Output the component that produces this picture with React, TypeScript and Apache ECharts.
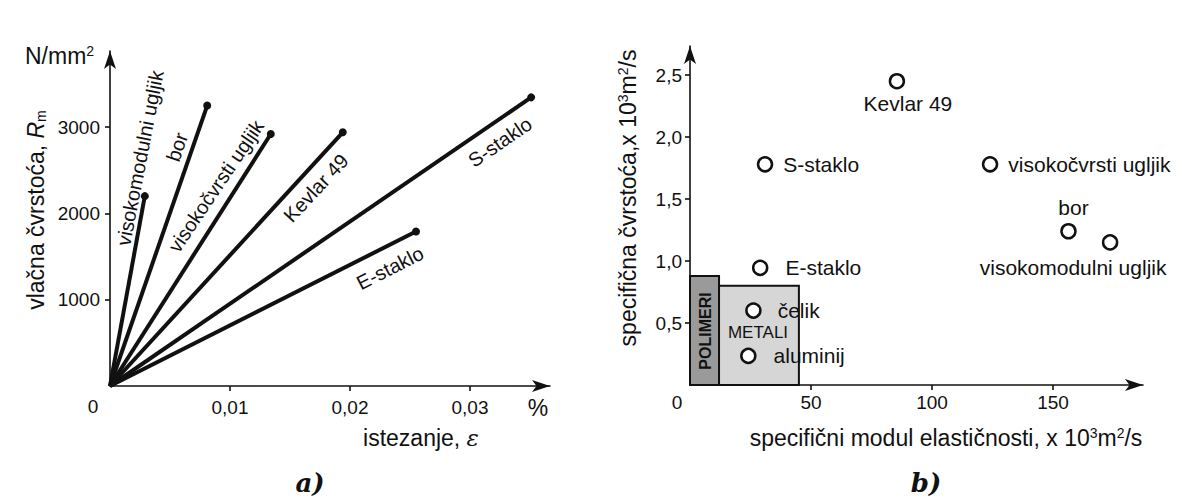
import React, { useEffect, useRef } from 'react';
import * as echarts from 'echarts';

// ---- a) tensile strength vs elongation ----
const fibreNames = ['visokomodulni ugljik', 'bor', 'visokočvrsti ugljik', 'Kevlar 49', 'S-staklo', 'E-staklo'];
const fibreStrain = [0.0029, 0.0081, 0.0134, 0.0194, 0.0351, 0.0255];
const fibreStrength = [2200, 3250, 2920, 2940, 3345, 1790];
const leftXTicks = [0.01, 0.02, 0.03];
const leftYTicks = [1000, 2000, 3000];

// ---- b) specific strength vs specific modulus ----
const materialNames = ['Kevlar 49', 'S-staklo', 'visokočvrsti ugljik', 'bor', 'visokomodulni ugljik', 'E-staklo', 'čelik', 'aluminij'];
const specModulus = [85.5, 31, 124, 156.4, 173.6, 29, 26.2, 24.1];
const specStrength = [2.45, 1.78, 1.78, 1.24, 1.15, 0.945, 0.6, 0.235];
const rightXTicks = [50, 100, 150];
const rightYTicks = [0.5, 1, 1.5, 2, 2.5];
const zoneNames = ['POLIMERI', 'METALI'];
const zoneModulusFrom = [0, 12];
const zoneModulusTo = [12, 45];
const zoneStrengthTo = [0.88, 0.8];

const FONT = '"Liberation Sans", Arial, sans-serif';
const INK = '#111111';

const labelPlacement: Record<string, any> = {
  'Kevlar 49': { position: 'bottom', distance: 4, offset: [11, 0] },
  'S-staklo': { position: 'right', distance: 10 },
  'visokočvrsti ugljik': { position: 'right', distance: 10 },
  'bor': { position: 'top', distance: 5, offset: [5, 0] },
  'visokomodulni ugljik': { position: 'bottom', distance: 6, offset: [-37, 0] },
  'E-staklo': { position: 'right', distance: 17 },
  'čelik': { position: 'right', distance: 16 },
  'aluminij': { position: 'right', distance: 17 },
};

const lineLabelPos: Record<string, [number, number, number]> = {
  'visokomodulni ugljik': [140, 158, 79],
  'bor': [177, 147, 71],
  'visokočvrsti ugljik': [216, 186, 56],
  'Kevlar 49': [316, 188, 47],
  'S-staklo': [500, 142, 34.5],
  'E-staklo': [390, 268, 27],
};

const hasTick = (ticks: number[], v: number) => ticks.some((t) => Math.abs(t - v) < 1e-9);

function axisCommon() {
  return {
    axisLine: { show: true, onZero: false, symbol: ['none', 'arrow'], symbolSize: [9, 18], lineStyle: { color: INK, width: 1.6 } },
    axisTick: { show: true, length: 5, lineStyle: { color: INK, width: 1.6 } },
    splitLine: { show: false },
  };
}

const sup = { fontSize: 14, verticalAlign: 'top', fontFamily: FONT, fill: INK, padding: [0, 0, 10, 0] } as any;

function buildOption() {
  const lineSeries = fibreNames.map((name, i) => ({
    type: 'line',
    name,
    xAxisIndex: 0,
    yAxisIndex: 0,
    data: [
      { value: [0, 0], symbol: 'none' },
      { value: [fibreStrain[i], fibreStrength[i]], symbol: 'circle', symbolSize: 8 },
    ],
    lineStyle: { color: INK, width: 4 },
    itemStyle: { color: INK },
    showSymbol: true,
    z: 3,
  }));

  const lineLabels = fibreNames.map((name) => {
    const [x, y, a] = lineLabelPos[name];
    return {
      type: 'text',
      x,
      y,
      rotation: (a * Math.PI) / 180,
      style: { text: name, font: `20px ${FONT}`, fill: INK, align: 'center', verticalAlign: 'middle' },
    };
  });

  const zoneArea = zoneNames.map((n, i) => [
    { name: n, xAxis: zoneModulusFrom[i], yAxis: 0, itemStyle: { color: i === 0 ? '#9a9a9a' : '#d6d6d6', borderColor: INK, borderWidth: 2 } },
    { xAxis: zoneModulusTo[i], yAxis: zoneStrengthTo[i] },
  ]);

  return {
    animation: false,
    backgroundColor: '#ffffff',
    textStyle: { fontFamily: FONT, color: INK },
    grid: [
      { left: 110, top: 51, width: 440, height: 335 },
      { left: 690, top: 46, width: 453, height: 339 },
    ],
    xAxis: [
      {
        type: 'value', gridIndex: 0, min: 0, max: 0.03667, interval: 0.01,
        ...axisCommon(),
        axisLabel: {
          fontSize: 19, color: INK, fontFamily: FONT, margin: 12, showMaxLabel: false, showMinLabel: false,
          formatter: (v: number) => (hasTick(leftXTicks, v) ? v.toFixed(2).replace('.', ',') : ''),
        },
      },
      {
        type: 'value', gridIndex: 1, min: 0, max: 187.2, interval: 50,
        ...axisCommon(),
        axisLabel: {
          fontSize: 19, color: INK, fontFamily: FONT, margin: 8, showMaxLabel: false, showMinLabel: false,
          formatter: (v: number) => (hasTick(rightXTicks, v) ? String(v) : ''),
        },
      },
    ],
    yAxis: [
      {
        type: 'value', gridIndex: 0, min: 0, max: 3882, interval: 1000,
        ...axisCommon(),
        axisLabel: {
          fontSize: 19, color: INK, fontFamily: FONT, margin: 10, showMaxLabel: false, showMinLabel: false,
          formatter: (v: number) => (hasTick(leftYTicks, v) ? String(v) : ''),
        },
      },
      {
        type: 'value', gridIndex: 1, min: 0, max: 2.734, interval: 0.5,
        ...axisCommon(),
        axisLabel: {
          fontSize: 19, color: INK, fontFamily: FONT, margin: 8, showMaxLabel: false, showMinLabel: false,
          formatter: (v: number) => (hasTick(rightYTicks, v) ? v.toFixed(1).replace('.', ',') : ''),
        },
      },
    ],
    series: [
      ...lineSeries,
      {
        type: 'scatter',
        xAxisIndex: 1,
        yAxisIndex: 1,
        data: [],
        z: 1,
        markArea: { silent: true, label: { show: false }, data: zoneArea },
      },
      {
        type: 'scatter',
        xAxisIndex: 1,
        yAxisIndex: 1,
        z: 5,
        symbol: 'circle',
        symbolSize: 14,
        itemStyle: { color: '#ffffff', borderColor: INK, borderWidth: 2.5, opacity: 1 },
        data: materialNames.map((n, i) => ({
          name: n,
          value: [specModulus[i], specStrength[i]],
          label: { show: true, formatter: '{b}', fontSize: 21, color: INK, fontFamily: FONT, ...labelPlacement[n] },
        })),
      },
    ],
    graphic: [
      ...lineLabels,
      // left chart texts
      {
        type: 'text', left: 25, top: 44,
        style: { text: 'N/mm{s|2}', font: `23px ${FONT}`, fill: INK, rich: { s: sup } },
      },
      { type: 'text', x: 93, y: 406, style: { text: '0', font: `19px ${FONT}`, fill: INK, align: 'center', verticalAlign: 'middle' } },
      { type: 'text', x: 538, y: 408, style: { text: '%', font: `23px ${FONT}`, fill: INK, align: 'center', verticalAlign: 'middle' } },
      {
        type: 'text', x: 421, y: 438,
        style: { text: 'istezanje, {e|ε}', font: `23px ${FONT}`, fill: INK, align: 'center', verticalAlign: 'middle', rich: { e: { fontStyle: 'italic', fontSize: 23, fontFamily: '"DejaVu Serif", serif', fill: INK } } },
      },
      {
        type: 'text', x: 36, y: 210, rotation: Math.PI / 2,
        style: {
          text: 'vlačna čvrstoća, {r|R}{m|m}', font: `23px ${FONT}`, fill: INK, align: 'center', verticalAlign: 'middle',
          rich: { r: { fontStyle: 'italic', fontSize: 23, fontFamily: FONT, fill: INK }, m: { fontSize: 14, fontFamily: FONT, fill: INK, verticalAlign: 'bottom', padding: [8, 0, 0, 0] } },
        },
      },
      { type: 'text', x: 310, y: 483, style: { text: 'a)', font: `italic bold 26px "DejaVu Serif", serif`, fill: INK, align: 'center', verticalAlign: 'middle' } },
      // right chart texts
      { type: 'text', x: 677, y: 402, style: { text: '0', font: `19px ${FONT}`, fill: INK, align: 'center', verticalAlign: 'middle' } },
      {
        type: 'text', x: 946, y: 438,
        style: { text: 'specifični modul elastičnosti, x 10{s|3}m{s|2}/s', font: `23px ${FONT}`, fill: INK, align: 'center', verticalAlign: 'middle', rich: { s: sup } },
      },
      {
        type: 'text', x: 628, y: 198, rotation: Math.PI / 2,
        style: { text: 'specifična čvrstoća,x 10{s|3}m{s|2}/s', font: `23px ${FONT}`, fill: INK, align: 'center', verticalAlign: 'middle', rich: { s: sup } },
      },
      { type: 'text', x: 705, y: 331, rotation: Math.PI / 2, z: 10, style: { text: zoneNames[0], font: `bold 16px ${FONT}`, fill: INK, align: 'center', verticalAlign: 'middle' } },
      { type: 'text', x: 758, y: 332, z: 10, style: { text: zoneNames[1], font: `17px ${FONT}`, fill: INK, align: 'center', verticalAlign: 'middle' } },
      { type: 'text', x: 926, y: 483, style: { text: 'b)', font: `italic bold 26px "DejaVu Serif", serif`, fill: INK, align: 'center', verticalAlign: 'middle' } },
    ],
  };
}

export default function App() {
  const ref = useRef<HTMLDivElement>(null);
  useEffect(() => {
    if (!ref.current) return;
    const chart = echarts.init(ref.current, null, { renderer: 'svg' });
    chart.setOption(buildOption() as any);
    return () => chart.dispose();
  }, []);
  return (
    <div
      ref={ref}
      style={{ position: 'absolute', left: 0, top: 0, width: 1182, height: 498, background: '#ffffff' }}
    />
  );
}
